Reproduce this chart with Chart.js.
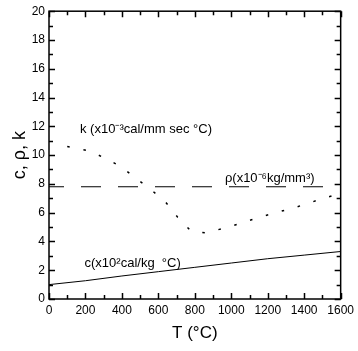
<!DOCTYPE html>
<html>
<head>
<meta charset="utf-8">
<script src="https://cdn.jsdelivr.net/npm/chart.js@4"></script>
<style>
  body { margin: 0; background: #fff; }
  #wrap { width: 358px; height: 351px; }
</style>
</head>
<body>
<div id="wrap"><canvas id="grafico" width="358" height="351"></canvas></div>
<script>
// k curve (x10^-3 cal/mm sec C)
var kTemp = [100, 220, 305, 395, 480, 560, 645, 705, 780, 860, 970, 1060, 1160, 1260, 1360, 1470, 1560, 1600];
var kVal = [10.6, 10.3, 9.8, 9.2, 8.35, 7.6, 6.65, 5.7, 4.7, 4.6, 4.95, 5.3, 5.7, 6.05, 6.4, 6.85, 7.2, 7.35];
// rho (x10^-6 kg/mm3)
var rhoTemp = [0, 1600];
var rhoVal = [7.8, 7.8];
// c (x10^2 cal/kg C)
var cTemp = [0, 200, 400, 600, 800, 1000, 1200, 1400, 1600];
var cVal = [1.0, 1.27, 1.6, 1.9, 2.2, 2.5, 2.8, 3.05, 3.3];

var xTicks = [0, 200, 400, 600, 800, 1000, 1200, 1400, 1600];
var yTicks = [0, 2, 4, 6, 8, 10, 12, 14, 16, 18, 20];

function pares(xs, ys) {
  return xs.map(function (x, i) { return { x: x, y: ys[i] }; });
}

var fuente = 'Liberation Sans, Arial, sans-serif';

// ticks hacia adentro en los cuatro lados + textos de las curvas
var marcasPlugin = {
  id: 'marcas',
  afterDraw: function (chart) {
    var c = chart.ctx, a = chart.chartArea;
    var sx = chart.scales.x, sy = chart.scales.y;
    c.save();
    c.setLineDash([]);
    c.strokeStyle = '#000';
    c.lineWidth = 1.5;
    for (var t = 0; t <= 1600; t += 100) {
      var px = Math.round(sx.getPixelForValue(t)) + 0.5;
      var len = (t % 200 === 0) ? 6 : 4;
      c.beginPath();
      c.moveTo(px, a.bottom); c.lineTo(px, a.bottom - len);
      c.moveTo(px, a.top); c.lineTo(px, a.top + len);
      c.stroke();
    }
    for (var v = 0; v <= 20; v += 1) {
      var py = Math.round(sy.getPixelForValue(v)) + 0.5;
      var l2 = (v % 2 === 0) ? 6 : 4;
      c.beginPath();
      c.moveTo(a.left, py); c.lineTo(a.left + l2, py);
      c.moveTo(a.right, py); c.lineTo(a.right - l2, py);
      c.stroke();
    }
    c.strokeRect(a.left, a.top, a.right - a.left, a.bottom - a.top);

    c.fillStyle = '#000';
    c.font = '13px ' + fuente;
    c.textBaseline = 'middle';
    c.fillText('k (x10\u207B\u00B3cal/mm sec \u00B0C)', sx.getPixelForValue(170), sy.getPixelForValue(11.8));
    c.fillText('\u03C1(x10\u207B\u2076kg/mm\u00B3)', sx.getPixelForValue(965), sy.getPixelForValue(8.4));
    c.fillText('c(x10\u00B2cal/kg  \u00B0C)', sx.getPixelForValue(195), sy.getPixelForValue(2.5));
    c.restore();
  }
};

var ctx1 = document.getElementById('grafico').getContext('2d');
var grafico = new Chart(ctx1, {
  type: 'line',
  data: {
    datasets: [{
      label: 'k',
      data: pares(kTemp, kVal),
      borderColor: '#000',
      borderWidth: 1.5,
      borderDash: [2.5, 14],
      pointRadius: 0,
      fill: false
    }, {
      label: 'rho',
      data: pares(rhoTemp, rhoVal),
      borderColor: '#000',
      borderWidth: 1,
      borderDash: [20, 17],
      borderDashOffset: 5,
      pointRadius: 0,
      fill: false
    }, {
      label: 'c',
      data: pares(cTemp, cVal),
      borderColor: '#000',
      borderWidth: 1,
      pointRadius: 0,
      fill: false
    }]
  },
  options: {
    responsive: false,
    animation: false,
    layout: { padding: { left: 9, right: 16, top: 11, bottom: 7 } },
    plugins: { legend: { display: false }, tooltip: { enabled: false } },
    scales: {
      x: {
        type: 'linear',
        min: 0, max: 1600,
        afterBuildTicks: function (s) { s.ticks = xTicks.map(function (v) { return { value: v }; }); },
        afterFit: function (s) { s.height = 45; },
        grid: { display: false, drawTicks: false },
        border: { display: false },
        ticks: {
          color: '#000', font: { family: fuente, size: 12 }, padding: 4, maxRotation: 0,
          callback: function (v) { return String(v); }
        },
        title: { display: true, text: 'T (\u00B0C)', color: '#000', font: { family: fuente, size: 17 }, padding: { top: 2, bottom: 0 } }
      },
      y: {
        min: 0, max: 20,
        afterBuildTicks: function (s) { s.ticks = yTicks.map(function (v) { return { value: v }; }); },
        afterFit: function (s) { s.width = 40; },
        grid: { display: false, drawTicks: false },
        border: { display: false },
        ticks: { color: '#000', font: { family: fuente, size: 12 }, padding: 4 },
        title: { display: true, text: 'c, \u03C1, k', color: '#000', font: { family: fuente, size: 18 }, padding: { top: 0, bottom: 2 } }
      }
    }
  },
  plugins: [marcasPlugin]
});
</script>
</body>
</html>
